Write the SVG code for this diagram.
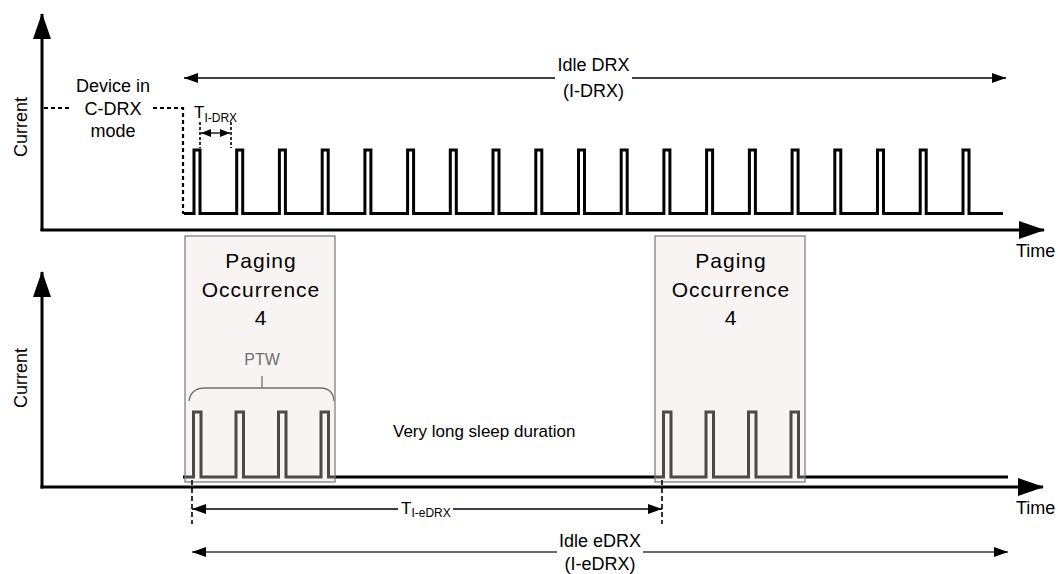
<svg xmlns="http://www.w3.org/2000/svg" width="1058" height="574" viewBox="0 0 1058 574">
<style>
text{font-family:"Liberation Sans",Arial,sans-serif;fill:#000}
.lbl{font-size:18px}
.pg{font-size:21px;letter-spacing:1px;text-anchor:middle}
.axis{stroke:#000;stroke-width:3;fill:none}
.wave{stroke:#000;stroke-width:3;fill:none;stroke-linejoin:miter}
.box{fill:#ecdfdf;fill-opacity:0.33;stroke:#777;stroke-width:1.2}
.dim{stroke:#000;stroke-width:1.3;fill:none}
.dash{stroke:#000;stroke-width:1.6;stroke-dasharray:5,3;fill:none}
.cdrx{stroke:#000;stroke-width:2.2;stroke-dasharray:4,3;fill:none}
</style>
<defs>
<marker id="axhead" markerUnits="userSpaceOnUse" markerWidth="26" markerHeight="18" refX="25" refY="9" orient="auto"><path d="M0,0 L26,9 L0,18 z" fill="#000"/></marker>
<marker id="ah" markerUnits="userSpaceOnUse" markerWidth="14" markerHeight="10" refX="14" refY="5" orient="auto-start-reverse"><path d="M0,0 L14,5 L0,10 z" fill="#000"/></marker>
<marker id="ahs" markerUnits="userSpaceOnUse" markerWidth="10" markerHeight="8" refX="10" refY="4" orient="auto-start-reverse"><path d="M0,0 L10,4 L0,8 z" fill="#000"/></marker>
</defs>

<g id="top-chart">
<line class="axis" x1="42" y1="231" x2="42" y2="14" marker-end="url(#axhead)"/>
<line class="axis" x1="40.5" y1="230" x2="1044" y2="230" marker-end="url(#axhead)"/>
<text class="lbl" transform="translate(27,127) rotate(-90)" text-anchor="middle">Current</text>
<text class="lbl" x="1016" y="257">Time</text>
<path class="cdrx" d="M44,108 H72 M153,108 H183 V214"/>
<text class="lbl" x="113" y="92" text-anchor="middle">Device in</text>
<text class="lbl" x="113" y="115" text-anchor="middle">C-DRX</text>
<text class="lbl" x="113" y="137" text-anchor="middle">mode</text>
<path class="wave" d="M184,213.5 H194 V150 H200 V213.5 H236.7 V150 H242.7 V213.5 H279.4 V150 H285.4 V213.5 H322.2 V150 H328.2 V213.5 H364.9 V150 H370.9 V213.5 H407.6 V150 H413.6 V213.5 H450.3 V150 H456.3 V213.5 H493 V150 H499 V213.5 H535.8 V150 H541.8 V213.5 H578.5 V150 H584.5 V213.5 H621.2 V150 H627.2 V213.5 H663.9 V150 H669.9 V213.5 H706.6 V150 H712.6 V213.5 H749.4 V150 H755.4 V213.5 H792.1 V150 H798.1 V213.5 H834.8 V150 H840.8 V213.5 H877.5 V150 H883.5 V213.5 H920.2 V150 H926.2 V213.5 H963 V150 H969 V213.5 H1003"/>
</g>

<g id="bottom-chart">
<line class="axis" x1="42" y1="488.5" x2="42" y2="272" marker-end="url(#axhead)"/>
<line class="axis" x1="40.5" y1="487" x2="1043" y2="487" marker-end="url(#axhead)"/>
<text class="lbl" transform="translate(27,378) rotate(-90)" text-anchor="middle">Current</text>
<text class="lbl" x="1016" y="514">Time</text>
<path class="wave" d="M183,477 H193.5 V412 H201 V477 H236 V412 H243.5 V477 H278.5 V412 H286 V477 H321 V412 H328.5 V477 H663.5 V412 H671 V477 H706 V412 H713.5 V477 H748.5 V412 H756 V477 H791 V412 H798.5 V477 H1008"/>
<text x="393" y="437" font-size="17">Very long sleep duration</text>
</g>

<g id="paging-box-1">
<rect class="box" x="185" y="236" width="150" height="246"/>
<text class="pg" x="261" y="268">Paging</text>
<text class="pg" x="261" y="297">Occurrence</text>
<text class="pg" x="261" y="325">4</text>
<text x="262" y="365" font-size="16" text-anchor="middle" style="fill:#707070">PTW</text>
<path d="M262,376 V388 M189,401 Q191,388 205,388 H320 Q333,388 334,401" stroke="#707070" stroke-width="1.3" fill="none"/>
</g>

<g id="paging-box-2">
<rect class="box" x="655" y="236" width="150" height="246"/>
<text class="pg" x="731" y="268">Paging</text>
<text class="pg" x="731" y="297">Occurrence</text>
<text class="pg" x="731" y="325">4</text>
</g>

<g id="connectors">
<line class="dim" x1="184" y1="78" x2="555" y2="78" marker-start="url(#ah)"/>
<line class="dim" x1="632" y1="78" x2="1006" y2="78" marker-end="url(#ah)"/>
<text class="lbl" x="593.5" y="71" text-anchor="middle">Idle DRX</text>
<text class="lbl" x="593.5" y="97" text-anchor="middle">(I-DRX)</text>

<line class="dash" x1="200" y1="122" x2="200" y2="148" style="stroke-dasharray:3,2"/>
<line class="dash" x1="231" y1="122" x2="231" y2="148" style="stroke-dasharray:3,2"/>
<line class="dim" x1="201" y1="133" x2="230" y2="133" stroke-width="1.5" marker-start="url(#ahs)" marker-end="url(#ahs)"/>
<text x="194" y="118" font-size="17">T<tspan font-size="12" dy="4">I-DRX</tspan></text>

<line class="dash" x1="192" y1="480" x2="192" y2="524"/>
<line class="dash" x1="662" y1="480" x2="662" y2="524"/>
<line class="dim" x1="192" y1="509" x2="398" y2="509" marker-start="url(#ah)"/>
<line class="dim" x1="453" y1="509" x2="662" y2="509" marker-end="url(#ah)"/>
<text x="401" y="514" font-size="17">T<tspan font-size="12" dy="3">I-eDRX</tspan></text>

<line x1="192" y1="552" x2="557" y2="552" stroke="#6a6a6a" stroke-width="2" marker-start="url(#ah)"/>
<line x1="643" y1="552" x2="1008" y2="552" stroke="#6a6a6a" stroke-width="2" marker-end="url(#ah)"/>
<text class="lbl" x="600" y="547" text-anchor="middle">Idle eDRX</text>
<text class="lbl" x="600" y="570" text-anchor="middle">(I-eDRX)</text>
</g>
</svg>
